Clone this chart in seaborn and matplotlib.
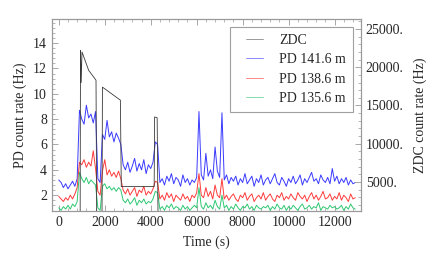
import numpy as np
import pandas as pd
import matplotlib
matplotlib.use("Agg")
import matplotlib.pyplot as plt
from matplotlib.legend_handler import HandlerLine2D
import seaborn as sns

# time grid of the PD samples (s)
time = np.arange(0, 13000, 100)

# PD count rates (Hz), one row per 1000 s
pd_141 = [
    3.2, 3.0, 2.6, 2.9, 2.5, 2.8, 3.1, 2.7, 3.3, 8.7,
    8.0, 7.6, 9.1, 8.1, 8.4, 7.7, 8.6, 3.3, 3.0, 6.8,
    6.4, 7.9, 6.6, 7.0, 6.2, 6.9, 6.5, 6.0, 4.4, 4.0,
    4.6, 3.8, 4.3, 4.9, 3.9, 4.5, 4.0, 4.8, 3.7, 4.4,
    4.1, 4.6, 6.2, 6.0, 3.0, 3.3, 2.8, 3.5, 3.1, 3.7,
    2.9, 3.4, 3.2, 2.7, 3.6, 3.0, 3.3, 2.8, 3.2, 3.0,
    3.4, 8.6, 3.6, 3.2, 5.3, 3.5, 4.0, 3.3, 5.8, 3.9,
    3.4, 8.5, 3.2, 3.6, 2.9, 3.4, 3.1, 3.5, 2.8, 3.3,
    3.0, 3.7, 2.9, 3.2, 3.5, 2.7, 3.3, 3.0, 3.6, 2.8,
    3.2, 3.4, 2.9, 3.3, 3.7, 3.0, 2.8, 3.4, 3.1, 2.7,
    3.3, 3.0, 3.5, 2.9, 3.2, 3.6, 2.8, 3.3, 3.0, 3.4,
    3.8, 3.1, 3.3, 2.9, 3.6, 3.2, 3.0, 3.4, 2.9, 4.1,
    3.1, 3.5, 2.9, 3.3, 3.0, 3.4, 2.8, 3.2, 2.9, 3.0,
]
pd_138 = [
    1.9, 1.7, 1.5, 1.8, 1.6, 2.0, 1.7, 2.1, 2.6, 4.6,
    4.4, 4.8, 4.2, 4.6, 4.3, 5.5, 4.1, 2.3, 2.0, 3.9,
    4.8, 3.6, 4.0, 3.5, 3.8, 3.4, 3.9, 3.3, 2.4, 2.1,
    2.5, 2.0, 2.3, 2.6, 1.9, 2.4, 2.2, 2.7, 2.0, 2.3,
    2.1, 2.5, 3.1, 3.0, 1.7, 2.0, 1.6, 2.2, 1.8, 2.1,
    1.5, 2.0, 1.8, 1.6, 2.1, 1.7, 1.9, 1.5, 2.0, 1.8,
    2.2, 3.7, 2.0, 1.8, 2.6, 1.9, 2.3, 1.7, 2.8, 2.0,
    1.8, 3.3, 1.7, 2.0, 1.6, 1.9, 2.1, 1.7, 1.5, 2.0,
    1.8, 2.2, 1.6, 1.9, 2.1, 1.5, 1.8, 2.0, 1.7, 2.2,
    1.6, 1.9, 2.1, 1.7, 1.5, 2.0, 1.8, 2.2, 1.6, 1.9,
    1.7, 2.1, 1.8, 1.6, 2.2, 1.9, 1.7, 2.0, 1.5, 1.9,
    2.2, 1.7, 2.0, 1.6, 1.9, 2.3, 1.7, 1.8, 2.1, 1.6,
    1.9, 1.7, 2.2, 1.6, 2.0, 1.8, 1.5, 2.1, 1.7, 1.8,
]
pd_135 = [
    1.0, 0.8, 1.1, 0.9, 1.2, 0.9, 1.3, 1.1, 1.5, 3.8,
    3.3, 3.0, 3.4, 2.9, 3.2, 3.0, 2.8, 1.0, 0.8, 2.7,
    2.9, 2.5, 2.7, 2.4, 2.6, 2.3, 2.6, 2.4, 1.6, 1.4,
    1.7, 1.3, 1.5, 1.8, 1.2, 1.6, 1.4, 1.7, 1.3, 1.5,
    1.4, 1.7, 2.3, 2.2, 0.9, 1.1, 0.8, 1.2, 1.0, 1.3,
    0.9, 1.1, 1.0, 0.8, 1.2, 0.9, 1.1, 0.8, 1.0, 1.2,
    1.0, 2.6, 1.1, 0.9, 1.4, 1.0, 1.2, 0.9, 1.6, 1.1,
    0.9, 2.0, 1.0, 1.2, 0.8, 1.1, 0.9, 1.3, 1.0, 0.8,
    1.1, 1.0, 1.3, 0.9, 1.1, 0.8, 1.2, 1.0, 0.9, 1.1,
    1.0, 1.2, 0.8, 1.1, 0.9, 1.3, 1.0, 0.9, 1.2, 0.8,
    1.1, 0.9, 1.2, 1.0, 0.8, 1.1, 1.3, 0.9, 1.0, 1.2,
    0.9, 1.1, 1.0, 1.4, 0.8, 1.1, 1.0, 0.9, 1.2, 1.0,
    1.1, 0.9, 1.0, 1.2, 0.8, 1.1, 0.9, 1.3, 1.0, 0.9,
]

# ZDC count rate (Hz) at its break points
zdc_time = [0, 930, 945, 975, 1010, 1300, 1620, 1650, 1880, 1900,
            2680, 2720, 4150, 4170, 4280, 4320, 12900]
zdc_rate = [0, 0, 22200, 18000, 22000, 19600, 18300, 0, 0, 17400,
            15700, 4400, 4400, 13500, 13400, 0, 0]

labels = ["PD 141.6 m", "PD 138.6 m", "PD 135.6 m"]
colors = ["#3a3aff", "#ff3b3b", "#2ec873"]

df = pd.DataFrame({
    "time": np.tile(time, 3),
    "rate": pd_141 + pd_138 + pd_135,
    "det": np.repeat(labels, len(time)),
})
zdc = pd.DataFrame({"time": zdc_time, "rate": zdc_rate})

sns.set_style("ticks")
plt.rcParams["font.family"] = ["Liberation Serif", "DejaVu Serif"]
plt.rcParams["font.size"] = 10

fig = plt.figure(figsize=(4.36, 2.70), dpi=100)
ax = fig.add_axes([0.119, 0.2185, 0.709, 0.711])
ax2 = ax.twinx()

sns.lineplot(data=df, x="time", y="rate", hue="det", palette=colors,
             linewidth=0.7, ax=ax, legend=False)
sns.lineplot(data=zdc, x="time", y="rate", color="#3a3a3a",
             linewidth=0.6, ax=ax2, legend=False)

ax.set_xlim(-300, 13150)
ax.set_ylim(0.75, 15.9)
ax2.set_ylim(1210, 26300)

ax.set_xticks(range(0, 12001, 2000))
ax.set_xticks(range(0, 13001, 400), minor=True)
ax.set_yticks(range(2, 15, 2))
ax.set_yticks(np.arange(1.2, 15.9, 0.4), minor=True)
ax2.set_yticks(range(5000, 25001, 5000))
ax2.set_yticklabels([f"{v}." for v in range(5000, 25001, 5000)])
ax2.set_yticks(range(2000, 26001, 1000), minor=True)

for a in (ax, ax2):
    a.tick_params(which="both", direction="in", color="#999999",
                  labelsize=10)
    a.tick_params(which="major", length=4, width=0.6)
    a.tick_params(which="minor", length=2, width=0.5)
    for s in a.spines.values():
        s.set_color("#999999")
        s.set_linewidth(0.8)
ax.tick_params(axis="x", which="both", top=True)
ax.yaxis.set_ticks_position("left")
ax2.yaxis.set_ticks_position("right")

ax.set_xlabel("Time (s)", fontsize=10, labelpad=5)
ax.set_ylabel("PD count rate (Hz)", fontsize=10, labelpad=4)
ax2.set_ylabel("ZDC count rate (Hz)", fontsize=10, labelpad=7)

# legend lines are short and sit away from the left frame edge
handles = [ax2.lines[0]] + ax.lines[:3]
hmap = {h: HandlerLine2D(xpad=0.65) for h in handles}
leg = ax2.legend(handles, ["ZDC"] + labels, loc="upper right",
                 bbox_to_anchor=(0.974, 0.958), borderaxespad=0,
                 fontsize=10, frameon=True, fancybox=False,
                 handlelength=1.87, handletextpad=1.15, borderpad=0.5,
                 labelspacing=0.45, handler_map=hmap)
leg.get_frame().set_edgecolor("#888888")
leg.get_frame().set_linewidth(0.8)
for line in leg.get_lines():
    line.set_alpha(0.6)

fig.savefig("out.png", dpi=100)
